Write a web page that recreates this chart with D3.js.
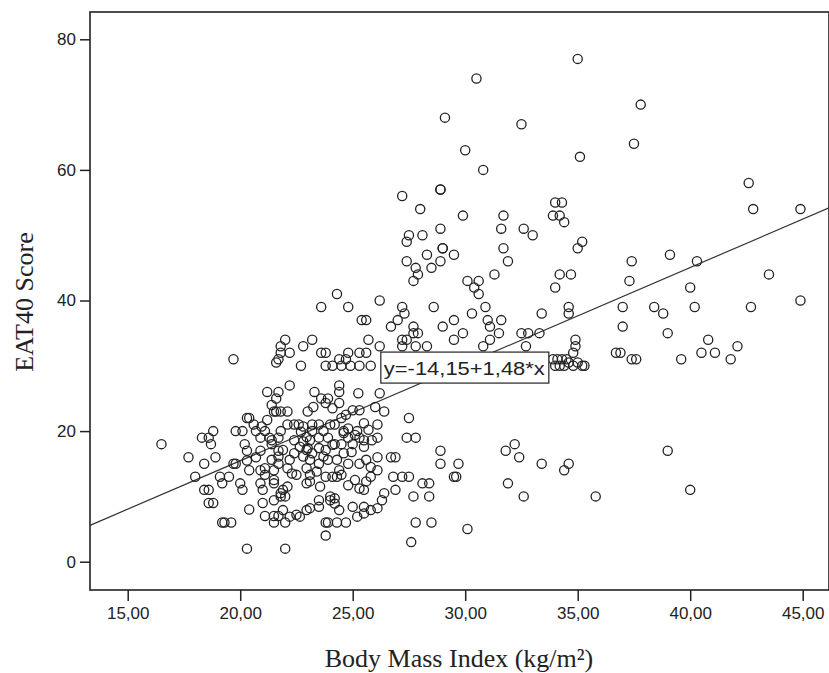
<!DOCTYPE html>
<html>
<head>
<meta charset="UTF-8">
<title>EAT40 Score vs Body Mass Index</title>
<script src="https://d3js.org/d3.v7.min.js"></script>
<style>
  body { margin: 0; background: #fff; }
  svg { display: block; }
  .tick text { font-family: "Liberation Sans", Arial, sans-serif; font-size: 17px; fill: #222; }
  .axis-title { font-family: "Liberation Serif", "Times New Roman", serif; font-size: 26px; fill: #222; }
</style>
</head>
<body>
<svg id="chart" width="829" height="673"></svg>
<script>
// BMI (kg/m²) and EAT40 score for each respondent
const observations = [
  [35.0,77],[30.5,74],[29.1,68],[32.5,67],[37.8,70],[30.0,63],[30.8,60],[35.1,62],[37.5,64],
  [42.6,58],[42.8,54],[44.9,54],[37.4,46],[39.1,47],[40.3,46],[37.3,43],[43.5,44],[40.0,42],[44.9,40],
  [37.0,39],[38.4,39],[38.8,38],[40.2,39],[42.7,39],[37.0,36],[39.0,35],[36.9,32],[37.4,31],[37.6,31],
  [39.6,31],[40.8,34],[40.5,32],[41.1,32],[42.1,33],[41.8,31],[39.0,17],[40.0,11],
  [34.2,30],[34.8,30],[35.2,30],[28.9,17],[28.9,15],[29.7,15],[29.5,13],[29.6,13],[31.8,17],[32.2,18],
  [32.4,16],[33.4,15],[34.4,14],[34.6,15],[31.9,12],[32.6,10],[35.8,10],[30.1,5],
  [28.9,57],[28.9,57],[34.3,55],[34.0,55],[33.9,53],[34.2,53],[34.4,52],[29.9,53],[31.7,53],[31.6,51],
  [32.6,51],[33.0,50],[35.2,49],[35.0,48],[28.9,51],[29.0,48],[29.0,48],[28.9,46],[29.5,47],[31.7,48],
  [31.9,46],[31.3,44],[30.1,43],[30.6,43],[30.4,42],[30.6,41],[34.2,44],[34.7,44],[34.0,42],[30.9,39],
  [30.3,38],[29.5,37],[29.0,36],[29.9,35],[31.0,37],[31.1,36],[31.6,37],[31.5,35],[33.4,38],[34.6,39],
  [34.6,38],[36.7,32],[32.5,35],[32.8,35],[33.3,35],[34.9,34],[34.9,33],[34.8,32],[30.8,33],[31.1,34],
  [32.7,33],[33.9,31],[34.1,31],[34.3,31],[34.5,31],[34.0,30],[34.4,30],[34.6,30.5],[35.0,30.5],[35.3,30],
  [27.2,56],[28.0,54],[27.5,50],[28.1,50],[27.4,49],[28.3,47],[27.4,46],[27.8,45],[27.9,44],[28.5,45],
  [27.7,43],[24.3,41],[23.6,39],[24.8,39],[26.2,40],[27.2,39],[28.6,39],[25.4,37],[25.6,37],[27.3,38],
  [27.0,37],[26.7,36],[27.7,36],[27.7,35],[27.2,34],[27.4,34],[27.9,35],[29.5,34],[22.0,34],[23.2,34],
  [21.8,33],[21.8,32],[21.7,31],[21.6,30.5],[22.2,32],[22.8,33],[23.6,32],[23.8,32],[24.4,31],[24.7,31],
  [24.8,32],[25.3,32],[25.6,32],[25.7,34],[26.2,33],[27.2,33],[27.8,33],[28.3,33],
  [22.7,30],[23.8,30],[24.1,30],[24.5,30],[24.9,30],[25.3,30],[25.8,30],
  [16.5,18],[19.7,31],[17.7,16],[18.0,13],[18.3,19],[18.6,19],[18.8,20],[18.7,18],[18.4,15],[18.9,16],
  [19.8,20],[18.4,11],[18.6,11],[18.6,9],[18.8,9],[19.2,6],[19.3,6],[19.6,6],[20.3,2],[19.1,13],
  [19.5,13],[19.2,12],[19.7,15],[19.8,15],[20.0,12],[20.1,11],[20.3,22],[20.4,22],[20.2,18],[20.3,17],
  [20.6,21],[20.7,20],[20.4,14],[20.4,8],[20.7,16],[20.9,17],[20.9,14],[21.0,11],[21.0,9],[21.1,7],
  [21.5,7],[21.7,7],[21.2,26],[21.4,24],[21.6,25],[21.6,23],[21.4,18],[21.7,19],[21.5,12],[21.7,17],
  [21.7,15],[21.8,10],[20.1,20],[20.3,15.5],
  [21.7,26],[22.2,27],[21.8,23],[21.5,23],[22.1,23],[23.3,26],[23.6,25],[23.9,25],[24.4,27],[23.0,23],
  [22.4,21],[22.6,21],[22.1,21],[21.8,20],[21.1,20],[20.9,19],[21.3,19],
  [23.2,21],[23.5,21],[23.7,20],[24.0,21],[24.2,21],[24.5,22],[24.6,20],
  [23.2,20],[23.5,19],[23.9,19],[24.2,18],[24.5,18],[24.8,19],[25.0,18],
  [25.2,20],[25.3,19],[25.5,17.6],[26.1,21],[26.1,19],[26.1,16],[26.7,16],[26.9,16],[26.1,14],[26.8,13],
  [27.5,13],[27.2,13],[26.9,11],[27.5,22],[27.4,19],[27.8,19],[28.1,12],[28.4,12],[27.7,10],[28.4,10],
  [27.8,6],[28.5,6],[27.6,3],[22.0,2],[23.8,4],[23.8,6],[23.9,6],[24.3,6],[24.7,6],
  [23.5,9.4],[23.5,8.4],[24.0,9.4],[24.2,8.9],[24.4,7.9],[24.0,10],[24.2,9.7],
  [25.0,8.4],[25.5,8.4],[25.8,7.9],[26.1,8.2],[25.2,6.9],[25.5,7.4],
  [23.1,8.2],[22.95,7.9],[22.65,6.9],[22.2,6.9],[21.9,7.9],[21.5,6],[22.0,6],[22.5,7.2],
  [22.0,10],[22.1,11.5],[21.9,11],[20.9,12],
  [21.4,15.6],[21.1,14.3],[21.5,14],[21.1,13.3],[21.5,12.5],
  [22.2,15.6],[22.3,13.5],[22.5,13.3],[22.1,14.3],[22.8,16.1],[23.0,17.4],[23.1,15.6],
  [22.95,14.3],[23.1,13.3],[23.4,13.8],[23.8,13],[24.1,13],[24.3,13],[24.5,13.3],[24.4,14],
  [24.8,11.7],[25.1,12.5],[25.3,11.2],[25.5,11],[25.6,12.3],[25.8,13],
  [25.6,15.6],[25.8,14.5],[25.3,15],[24.3,15.6],[24.6,16.6],[24.95,16.8],[24.8,15],
  [24.1,17.9],[23.8,17.1],[23.5,17.4],[23.2,16.6],[23.9,15.6],[23.7,16.1],[23.5,15],
  [23.1,18.6],[22.8,18.4],[22.95,17.1],[22.65,17.6],[21.9,17.1],[21.7,16.1],[22.4,16.6],
  [25.5,21.2],[25.7,20.2],[25.5,18.6],[25.85,18.6],[24.8,20.4],[25.1,19.4],[24.6,19.7],
  [24.4,24.3],[23.8,24.3],[24.1,23.5],[23.25,23.7],[25.3,23.2],[25.0,23.2],[24.7,22.5],
  [25.25,25.8],[24.4,26],[26.0,23.7],[26.4,23],[26.2,25.8],
  [22.8,20.7],[22.95,19.1],[22.4,18.6],[20.95,20.7],[21.2,21.7],[21.4,18.6],[22.7,19.9],
  [23.1,12.3],[23.55,11.5],[22.95,12],[21.8,10.5],[21.5,9.4],[26.4,10.5],[26.3,9.4]
];

const xTicks = [15, 20, 25, 30, 35, 40, 45];
const yTicks = [0, 20, 40, 60, 80];
const fitIntercept = -14.15;
const fitSlope = 1.48;
const fitLabel = "y=-14,15+1,48*x";

const svg = d3.select("#chart");
const margin = {top: 12, right: 0, bottom: 83, left: 90};
const width = 829 - margin.left - margin.right;
const height = 673 - margin.top - margin.bottom;
const g = svg.append("g").attr("transform", `translate(${margin.left},${margin.top})`);

const x = d3.scaleLinear().domain([13.324, 46.169]).range([0, width]);
const y = d3.scaleLinear().domain([-4.334, 84.18]).range([height, 0]);

const fmt = d => d3.format(".2f")(d).replace(".", ",");

g.append("g")
  .attr("transform", `translate(0,${height})`)
  .call(d3.axisBottom(x).tickValues(xTicks).tickFormat(fmt).tickSizeInner(11).tickSizeOuter(0).tickPadding(6))
  .call(a => a.select(".domain").remove());

g.append("g")
  .call(d3.axisLeft(y).tickValues(yTicks).tickSizeInner(10).tickSizeOuter(0).tickPadding(4))
  .call(a => a.select(".domain").remove());

g.selectAll(".tick line").attr("stroke", "#222").attr("stroke-width", 1.5);

// fit line
const x0 = x.domain()[0], x1 = x.domain()[1];
g.append("line")
  .attr("x1", x(x0)).attr("y1", y(fitIntercept + fitSlope * x0))
  .attr("x2", x(x1)).attr("y2", y(fitIntercept + fitSlope * x1))
  .attr("stroke", "#333")
  .attr("stroke-width", 1.2);

g.selectAll(".pt")
  .data(observations)
  .enter().append("circle")
  .attr("class", "pt")
  .attr("cx", d => x(d[0]))
  .attr("cy", d => y(d[1]))
  .attr("r", 4.6)
  .attr("fill", "none")
  .attr("stroke", "#222")
  .attr("stroke-width", 1.3);

// equation label
const lbl = g.append("g").attr("transform", `translate(${x(26.25)},${y(32.1)})`);
lbl.append("rect")
  .attr("x", 0).attr("y", 0).attr("width", 168).attr("height", 31)
  .attr("fill", "#fff").attr("stroke", "#222").attr("stroke-width", 1.2);
lbl.append("text")
  .attr("x", 3).attr("y", 23)
  .attr("textLength", 161)
  .attr("lengthAdjust", "spacingAndGlyphs")
  .style("font-family", "'Liberation Sans', Arial, sans-serif")
  .style("font-size", "19px")
  .attr("fill", "#222")
  .text(fitLabel);

// frame
g.append("rect")
  .attr("width", width).attr("height", height)
  .attr("fill", "none").attr("stroke", "#222").attr("stroke-width", 1.6);

svg.append("text")
  .attr("class", "axis-title")
  .attr("x", 459).attr("y", 667)
  .attr("text-anchor", "middle")
  .text("Body Mass Index (kg/m²)");

svg.append("text")
  .attr("class", "axis-title")
  .attr("transform", `translate(33,302) rotate(-90)`)
  .attr("text-anchor", "middle")
  .text("EAT40 Score");
</script>
</body>
</html>
